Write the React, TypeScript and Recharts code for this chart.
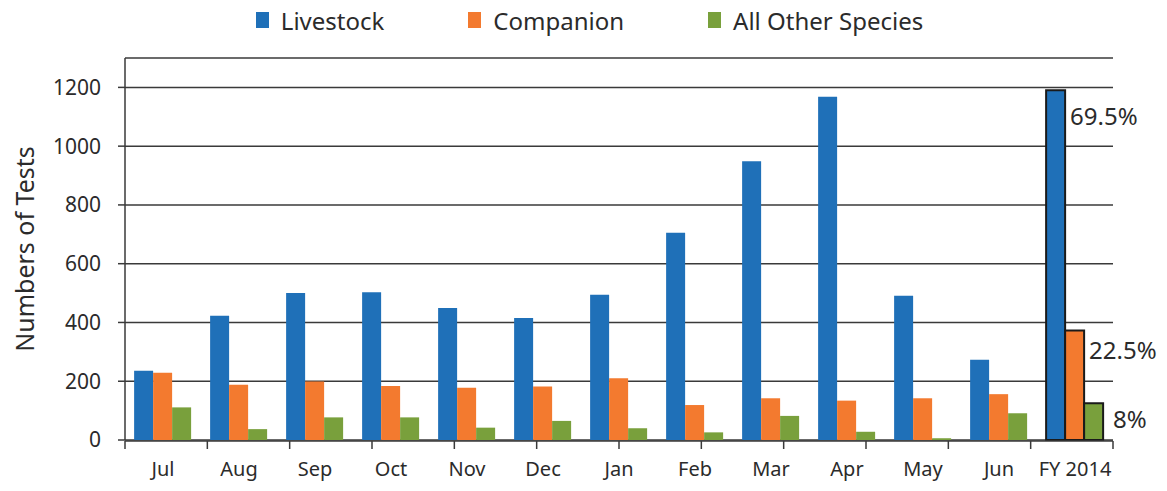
import { BarChart, Bar, XAxis, YAxis, CartesianGrid, Legend, Cell, LabelList } from 'recharts';

const months = ['Jul', 'Aug', 'Sep', 'Oct', 'Nov', 'Dec', 'Jan', 'Feb', 'Mar', 'Apr', 'May', 'Jun', 'FY 2014'];
const livestock = [236, 423, 500, 503, 449, 415, 494, 705, 949, 1168, 491, 273, 1190];
const companion = [229, 188, 199, 184, 178, 182, 210, 119, 142, 134, 142, 156, 373];
const otherSpecies = [111, 37, 77, 77, 42, 65, 40, 26, 82, 28, 6, 91, 125];
const fyShares = ['69.5%', '22.5%', '8%'];
const yTicks = [0, 200, 400, 600, 800, 1000, 1200];

const data = months.map((m, i) => ({
  month: m,
  livestock: livestock[i],
  companion: companion[i],
  other: otherSpecies[i],
}));

const series = [
  { key: 'livestock', name: 'Livestock', color: '#1f70b8', share: fyShares[0], dx: 5, dy: 25 },
  { key: 'companion', name: 'Companion', color: '#f37a2f', share: fyShares[1], dx: 5, dy: 19 },
  { key: 'other', name: 'All Other Species', color: '#79a03c', share: fyShares[2], dx: 10, dy: 15 },
];

const textColor = '#2b2b2b';
const lineColor = '#3a3a3a';
const font = '"Noto Sans", sans-serif';
const lastIdx = months.length - 1;

function LegendRow() {
  return (
    <div style={{ height: 40, display: 'flex', justifyContent: 'center', alignItems: 'center', paddingLeft: 12, fontFamily: font, fontSize: 24, color: textColor }}>
      {series.map((s, i) => (
        <div key={s.key} style={{ display: 'flex', alignItems: 'center', marginRight: i < series.length - 1 ? 84 : 0 }}>
          <span style={{ width: 13, height: 16, background: s.color, marginRight: 12, display: 'inline-block' }} />
          <span>{s.name}</span>
        </div>
      ))}
    </div>
  );
}

function shareLabel(text: string, dx: number, dy: number) {
  return (props: any) => {
    const { x, y, width, index } = props;
    if (index !== lastIdx) return null;
    return (
      <text x={Number(x) + Number(width) + dx} y={Number(y) + dy} fill={textColor} fontSize={24} fontFamily={font} dominantBaseline="central">
        {text}
      </text>
    );
  };
}

export default function App() {
  return (
    <div style={{ position: 'absolute', left: 0, top: 0, background: '#fff' }}>
      <BarChart
        width={1167}
        height={491}
        data={data}
        margin={{ top: 18, right: 54, bottom: 49, left: 0 }}
        barCategoryGap="12%"
        barGap={0}
      >
        <Legend verticalAlign="top" content={() => <LegendRow />} wrapperStyle={{ left: 0, width: 1167, top: 0 }} />
        <CartesianGrid vertical={false} stroke={lineColor} strokeWidth={1.5} xAxisId="cat" />
        <XAxis
          xAxisId="edges"
          type="number"
          domain={[0, months.length]}
          ticks={months.map((_, i) => i).concat(months.length)}
          height={1}
          tickSize={8}
          tickFormatter={() => ''}
          stroke={lineColor}
          strokeWidth={1.5}
          allowDataOverflow
        />
        <XAxis
          xAxisId="cat"
          dataKey="month"
          height={1}
          axisLine={false}
          tickLine={false}
          tickSize={8}
          tickMargin={14}
          interval={0}
          tick={{ fill: textColor, fontSize: 20, fontFamily: font }}
        />
        <YAxis
          width={125}
          domain={[0, 1300]}
          ticks={yTicks}
          tickSize={7}
          tickMargin={17}
          stroke={lineColor}
          strokeWidth={1.5}
          tick={{ fill: textColor, fontSize: 21, fontFamily: font }}
          label={{
            content: (p: any) => {
              const vb = p.viewBox || {};
              const cx = 24;
              const cy = (vb.y || 0) + (vb.height || 0) / 2;
              return (
                <text x={cx} y={cy} transform={`rotate(-90 ${cx} ${cy})`} textAnchor="middle" dominantBaseline="central" fill={textColor} fontSize={25} fontFamily={font}>
                  Numbers of Tests
                </text>
              );
            },
          }}
        />
        {series.map((s) => (
          <Bar key={s.key} xAxisId="cat" dataKey={s.key} name={s.name} fill={s.color} isAnimationActive={false}>
            {data.map((d, i) => (
              <Cell key={d.month} stroke={i === lastIdx ? '#1a1a1a' : 'none'} strokeWidth={i === lastIdx ? 2 : 0} />
            ))}
            <LabelList dataKey={s.key} content={shareLabel(s.share, s.dx, s.dy)} />
          </Bar>
        ))}
      </BarChart>
    </div>
  );
}
